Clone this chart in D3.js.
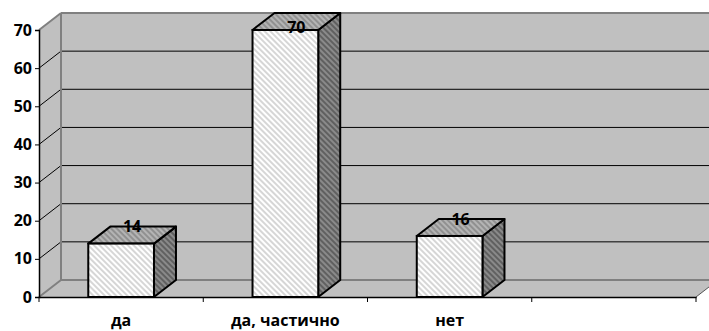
<!DOCTYPE html>
<html>
<head>
<meta charset="utf-8">
<script src="https://cdn.jsdelivr.net/npm/d3@7"></script>
<style>
  html, body { margin: 0; padding: 0; background: #fff; }
  svg { display: block; }
  text { font-family: "Open Sans", "Noto Sans", sans-serif; font-weight: bold; fill: #000; }
</style>
</head>
<body>
<svg id="chart" width="709" height="331"></svg>
<script>
// Survey answers (percent)
const categories = ["да", "да, частично", "нет", ""];
const values = [14, 70, 16];
const yTicks = [0, 10, 20, 30, 40, 50, 60, 70];

const W = 709, H = 331;
const plotLeft = 39, plotRight = 696, plotBottom = 297, plotTop = 30;
const dx = 22, dy = -17;          // 3-D depth offset
const barFrac = 0.4;              // bar width as share of a category slot
const fontSize = 16;

const svg = d3.select("#chart");

const x = d3.scaleBand().domain(categories).range([plotLeft, plotRight]).padding(0);
const y = d3.scaleLinear().domain([0, 70]).range([plotBottom, plotTop]);

// hatch patterns for the bar faces
const defs = svg.append("defs");
function hatch(id, base, stripe) {
  const p = defs.append("pattern")
    .attr("id", id).attr("patternUnits", "userSpaceOnUse")
    .attr("width", 4).attr("height", 4)
    .attr("patternTransform", "rotate(-45)");
  p.append("rect").attr("width", 4).attr("height", 4).attr("fill", base);
  p.append("rect").attr("width", 2).attr("height", 4).attr("fill", stripe);
}
hatch("hFront", "#ffffff", "#d6d6d6");
hatch("hTop", "#b4b4b4", "#909090");
hatch("hSide", "#8a8a8a", "#606060");

const wallFill = "#c0c0c0", edge = "#808080";
const y0 = y(0), yMax = y(70);

// back wall
svg.append("rect")
  .attr("x", plotLeft + dx).attr("y", yMax + dy)
  .attr("width", W - plotLeft).attr("height", y0 - yMax)
  .attr("fill", wallFill);
// left wall
svg.append("polygon")
  .attr("points", [[plotLeft, yMax], [plotLeft + dx, yMax + dy], [plotLeft + dx, y0 + dy], [plotLeft, y0]].join(" "))
  .attr("fill", wallFill);
// floor
svg.append("polygon")
  .attr("points", [[plotLeft, y0], [plotLeft + dx, y0 + dy], [plotRight + dx, y0 + dy], [plotRight, y0]].join(" "))
  .attr("fill", wallFill);

// gridlines on back and left walls
const inner = yTicks.filter(v => v > 0 && v < 70);
svg.append("g").selectAll("line").data(inner).join("line")
  .attr("x1", plotLeft + dx).attr("x2", W + 10)
  .attr("y1", d => y(d) + dy).attr("y2", d => y(d) + dy)
  .attr("stroke", "#000").attr("stroke-width", 1);
svg.append("g").selectAll("line").data(inner.concat([70])).join("line")
  .attr("x1", plotLeft).attr("y1", d => y(d))
  .attr("x2", plotLeft + dx).attr("y2", d => y(d) + dy)
  .attr("stroke", d => d === 70 ? edge : "#000")
  .attr("stroke-width", d => d === 70 ? 2 : 1);

// wall edges
const edges = svg.append("g").attr("stroke", edge).attr("stroke-width", 2).attr("fill", "none");
edges.append("line").attr("x1", plotLeft + dx).attr("y1", yMax + dy).attr("x2", W + 10).attr("y2", yMax + dy);
edges.append("line").attr("x1", plotLeft + dx).attr("y1", yMax + dy).attr("x2", plotLeft + dx).attr("y2", y0 + dy);
edges.append("line").attr("x1", plotLeft + dx).attr("y1", y0 + dy).attr("x2", W + 10).attr("y2", y0 + dy);
edges.append("line").attr("x1", plotLeft).attr("y1", y0).attr("x2", plotLeft + dx).attr("y2", y0 + dy);
svg.append("line")
  .attr("x1", plotRight).attr("y1", y0).attr("x2", plotRight + dx).attr("y2", y0 + dy)
  .attr("stroke", "#555").attr("stroke-width", 1);

// axes
const yAxis = svg.append("g").attr("transform", `translate(${plotLeft},0)`)
  .call(d3.axisLeft(y).tickValues(yTicks).tickSize(4).tickPadding(3));
yAxis.select(".domain").attr("stroke", "#000").attr("stroke-width", 1.5);
yAxis.selectAll(".tick line").attr("stroke", "#000");
yAxis.selectAll(".tick text").attr("font-size", fontSize).attr("font-family", "Open Sans").attr("font-weight", "bold");

const xAxis = svg.append("g").attr("transform", `translate(0,${y0})`)
  .call(d3.axisBottom(x).tickSize(0).tickFormat(""));
xAxis.select(".domain").attr("stroke", "#000").attr("stroke-width", 1.5);
// category boundary ticks
const bounds = categories.map(c => x(c)).concat([plotRight]);
svg.append("g").selectAll("line").data(bounds).join("line")
  .attr("x1", d => d).attr("x2", d => d)
  .attr("y1", y0).attr("y2", y0 + 5)
  .attr("stroke", "#000");

// category labels
svg.append("g").selectAll("text").data(categories.filter(c => c)).join("text")
  .attr("x", d => x(d) + x.bandwidth() / 2)
  .attr("y", 326)
  .attr("text-anchor", "middle")
  .attr("font-size", fontSize)
  .text(d => d);

// bars
const bw = x.bandwidth() * barFrac;
const bars = svg.append("g").selectAll("g")
  .data(values.map((v, i) => ({ cat: categories[i], v })))
  .join("g");

bars.each(function (d) {
  const g = d3.select(this);
  const x0 = x(d.cat) + (x.bandwidth() - bw) / 2, x1 = x0 + bw;
  const yt = y(d.v), yb = y(0);
  // side face
  g.append("polygon")
    .attr("points", [[x1, yb], [x1 + dx, yb + dy], [x1 + dx, yt + dy], [x1, yt]].join(" "))
    .attr("fill", "url(#hSide)").attr("stroke", "#000").attr("stroke-width", 2)
    .attr("stroke-linejoin", "round");
  // top face
  g.append("polygon")
    .attr("points", [[x0, yt], [x0 + dx, yt + dy], [x1 + dx, yt + dy], [x1, yt]].join(" "))
    .attr("fill", "url(#hTop)").attr("stroke", "#000").attr("stroke-width", 2)
    .attr("stroke-linejoin", "round");
  // front face
  g.append("rect")
    .attr("x", x0).attr("y", yt).attr("width", bw).attr("height", yb - yt)
    .attr("fill", "url(#hFront)").attr("stroke", "#000").attr("stroke-width", 2);
});

// value labels, kept inside the plot's top edge
svg.append("g").selectAll("text")
  .data(values.map((v, i) => ({ cat: categories[i], v })))
  .join("text")
  .attr("x", d => x(d.cat) + x.bandwidth() / 2 + dx / 2)
  .attr("y", d => Math.max(y(d.v) + dy, yMax - 3))
  .attr("dy", "0.35em")
  .attr("text-anchor", "middle")
  .attr("font-size", fontSize)
  .text(d => d.v);
</script>
</body>
</html>
